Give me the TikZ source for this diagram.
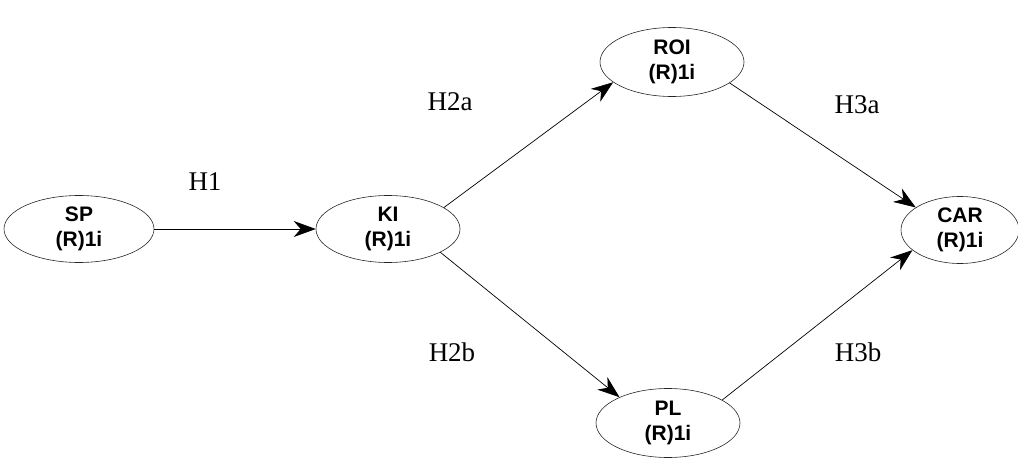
\documentclass[tikz,border=0pt]{standalone}
\usepackage{fontspec}
\setmainfont{Liberation Serif}
\newfontfamily\boxfont{Liberation Sans}
\usetikzlibrary{shapes.geometric,arrows.meta}
\tikzset{
  construct/.style={ellipse, draw=black!85, line width=0.6pt, inner sep=0pt,
    minimum width=144pt, minimum height=67pt, align=center,
    font=\boxfont\bfseries\fontsize{21}{25}\selectfont},
  hyp/.style={font=\fontsize{27}{30}\selectfont, inner sep=0pt},
  path/.style={line width=0.7pt, -{Stealth[length=22pt,width=16pt,inset=7pt]}}
}
\begin{document}
\begin{tikzpicture}[x=1pt,y=-1pt]
\useasboundingbox (0,0) rectangle (1018,460);
\node[construct, minimum width=150pt] (SP) at (79,229) {SP\\(R)1i};
\node[construct] (KI) at (388,229) {KI\\(R)1i};
\node[construct, minimum height=69pt] (ROI) at (672,62) {ROI\\(R)1i};
\node[construct, minimum height=69pt] (PL) at (668,423) {PL\\(R)1i};
\node[construct, minimum width=118pt] (CAR) at (960,230) {CAR\\(R)1i};

\node[hyp] (h1) at (205,182) {H1};
\node[hyp] (h2a) at (450,102) {H2a};
\node[hyp] (h2b) at (452,352) {H2b};
\node[hyp] (h3a) at (857,105) {H3a};
\node[hyp] (h3b) at (858,352) {H3b};

\draw[path] (SP) -- (KI);
\draw[path] (KI.21) -- (ROI.199);
\draw[path] (KI.336) -- (PL.152);
\draw[path] (ROI.340) -- (CAR.153);
\draw[path] (PL.23) -- (CAR.203);
\end{tikzpicture}
\end{document}
